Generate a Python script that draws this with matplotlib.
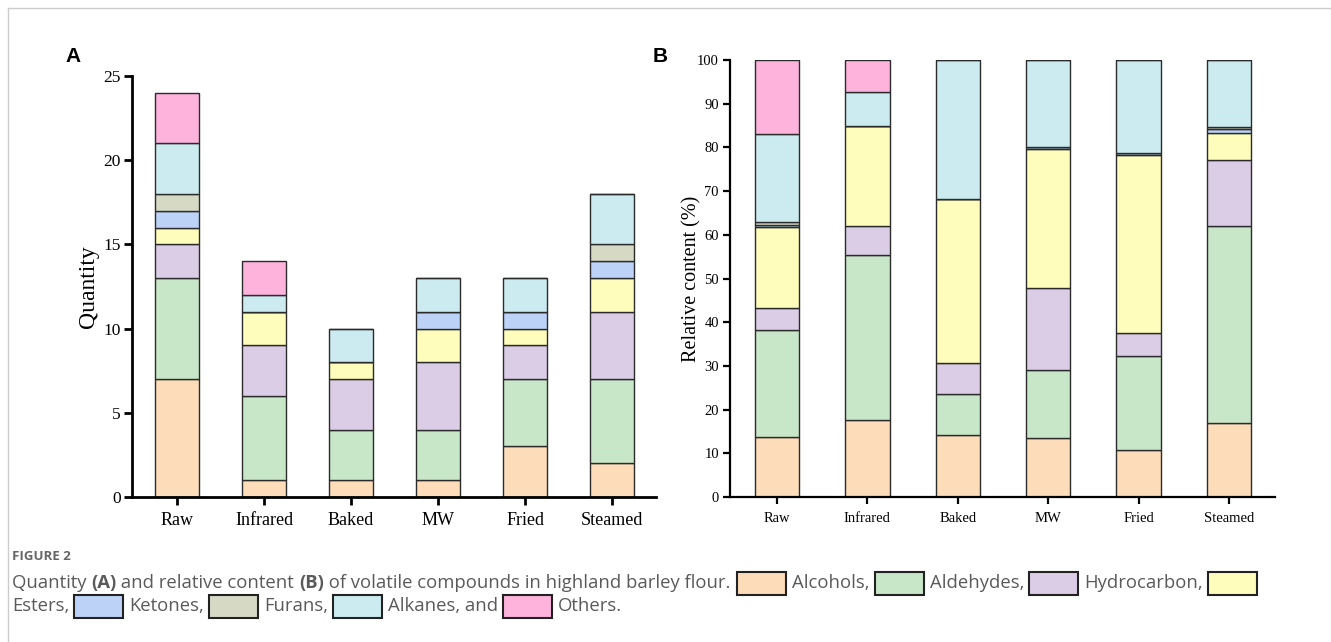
import matplotlib
matplotlib.use("Agg")
import matplotlib.pyplot as plt
from matplotlib.patches import Rectangle
from matplotlib.lines import Line2D
import numpy as np

categories = ["Raw", "Infrared", "Baked", "MW", "Fried", "Steamed"]
groups = ["Alcohols", "Aldehydes", "Hydrocarbon", "Esters", "Ketones", "Furans", "Alkanes", "Others"]
colors = ["#FDDCBA", "#C8E6C8", "#DCCDE6", "#FEFDBB", "#BCD2F7", "#D6D9C4", "#CBEBF0", "#FDB3DC"]

# Panel A: quantity
quantity = {
    "Alcohols":    [7, 1, 1, 1, 3, 2],
    "Aldehydes":   [6, 5, 3, 3, 4, 5],
    "Hydrocarbon": [2, 3, 3, 4, 2, 4],
    "Esters":      [1, 2, 1, 2, 1, 2],
    "Ketones":     [1, 0, 0, 1, 1, 1],
    "Furans":      [1, 0, 0, 0, 0, 1],
    "Alkanes":     [3, 1, 2, 2, 2, 3],
    "Others":      [3, 2, 0, 0, 0, 0],
}

# Panel B: relative content (%)
relative = {
    "Alcohols":    [13.7, 17.6, 14.3, 13.4, 10.7, 16.9],
    "Aldehydes":   [24.5, 37.7, 9.3, 15.6, 21.6, 45.2],
    "Hydrocarbon": [5.0, 6.8, 7.0, 18.9, 5.2, 15.0],
    "Esters":      [18.6, 22.9, 37.6, 31.8, 40.8, 6.2],
    "Ketones":     [0.5, 0.0, 0.0, 0.3, 0.4, 0.8],
    "Furans":      [0.7, 0.0, 0.0, 0.0, 0.0, 0.5],
    "Alkanes":     [20.1, 7.6, 31.8, 20.0, 21.3, 15.4],
    "Others":      [16.9, 7.4, 0.0, 0.0, 0.0, 0.0],
}

W, H = 1331, 642
fig = plt.figure(figsize=(W / 100, H / 100), dpi=100)

def fx(px):
    return px / W

def fy(py):
    return 1 - py / H

serif = ["Liberation Serif", "DejaVu Serif"]

# Panel A axes
axA = fig.add_axes([fx(132), fy(497), fx(656) - fx(132), fy(76) - fy(497)])
x = np.arange(len(categories))
bottom = np.zeros(len(categories))
for g, c in zip(groups, colors):
    vals = np.array(quantity[g], dtype=float)
    axA.bar(x, vals, 0.5, bottom=bottom, color=c, edgecolor="#2b2b2b", linewidth=1.0)
    bottom += vals
axA.set_xlim(-0.52, 5.506)
axA.set_ylim(0, 25)
axA.set_yticks([0, 5, 10, 15, 20, 25])
axA.set_xticks(x)
axA.set_xticklabels(categories)
for s in ["top", "right"]:
    axA.spines[s].set_visible(False)
for s in ["left", "bottom"]:
    axA.spines[s].set_linewidth(2.0)
axA.tick_params(axis="both", width=2.0, length=6, labelsize=13, direction="out", pad=5)
axA.tick_params(axis="y", labelsize=12.5, pad=2)
for lab in axA.get_xticklabels() + axA.get_yticklabels():
    lab.set_family(serif)
axA.set_ylabel("Quantity", family=serif, fontsize=17)
axA.yaxis.set_label_coords(-(132 - 99) / (656 - 132), 0.5)

# Panel B axes
axB = fig.add_axes([fx(730), fy(497), fx(1275) - fx(730), fy(60) - fy(497)])
bottom = np.zeros(len(categories))
for g, c in zip(groups, colors):
    vals = np.array(relative[g], dtype=float)
    axB.bar(x, vals, 0.49, bottom=bottom, color=c, edgecolor="#2b2b2b", linewidth=1.0)
    bottom += vals
axB.set_xlim(-0.52, 5.51)
axB.set_ylim(0, 100)
axB.set_yticks(np.arange(0, 101, 10))
axB.set_xticks(x)
axB.set_xticklabels(categories)
for s in ["top", "right"]:
    axB.spines[s].set_visible(False)
for s in ["left", "bottom"]:
    axB.spines[s].set_linewidth(1.6)
axB.tick_params(axis="both", width=1.6, length=5, labelsize=10.5, direction="out", pad=3)
axB.tick_params(axis="x", pad=6)
for lab in axB.get_xticklabels() + axB.get_yticklabels():
    lab.set_family(serif)
axB.set_ylabel("Relative content (%)", family=serif, fontsize=14.5)
axB.yaxis.set_label_coords(-(730 - 701) / (1275 - 730), 0.5)

# Panel letters
fig.text(fx(73), fy(57), "A", family="Liberation Sans", weight="bold", fontsize=15, ha="center", va="center")
fig.text(fx(660), fy(57), "B", family="Liberation Sans", weight="bold", fontsize=15, ha="center", va="center")

# frame border
fig.add_artist(Line2D([fx(8), 1.0], [fy(8), fy(8)], color="#cccccc", lw=1.0))
fig.add_artist(Line2D([fx(8), fx(8)], [fy(8), 0.0], color="#cccccc", lw=1.0))

# Caption
capc = "#5a5a5a"
cap_font = ["Open Sans", "DejaVu Sans"]
fig.text(fx(12), fy(557), "FIGURE 2", family=cap_font, weight="bold", fontsize=9.5, color="#666666", va="center")

fig.canvas.draw()
renderer = fig.canvas.get_renderer()

# size the caption font so that the first sentence spans the reference width
probe = fig.text(0, 0, "Quantity (A) and relative content (B) of volatile compounds in highland barley flour.",
                 family=cap_font, fontsize=10)
pw = probe.get_window_extent(renderer=renderer).width
probe.remove()
fs = 10 * 712 / pw

line1_y = 583
line2_y = 606

def put_text(xpx, ypx, s, bold=False):
    t = fig.text(fx(xpx), fy(ypx), s, family=cap_font, fontsize=fs, color=capc,
                 va="center", ha="left", weight="bold" if bold else "normal")
    bb = t.get_window_extent(renderer=renderer)
    return xpx + bb.width

def put_square(xpx, ypx, color):
    sq_w, sq_h = 49, 23
    r = Rectangle((fx(xpx), fy(ypx + sq_h / 2)), sq_w / W, sq_h / H,
                  transform=fig.transFigure, facecolor=color, edgecolor="#222222", lw=1.5)
    fig.add_artist(r)
    return xpx + sq_w

pos = 12
pos = put_text(pos, line1_y, "Quantity ")
pos = put_text(pos, line1_y, "(A)", bold=True)
pos = put_text(pos, line1_y, " and relative content ")
pos = put_text(pos, line1_y, "(B)", bold=True)
pos = put_text(pos, line1_y, " of volatile compounds in highland barley flour.")
pos += 7
line1_items = [("Alcohols,", colors[0]), ("Aldehydes,", colors[1]), ("Hydrocarbon,", colors[2])]
for label, c in line1_items:
    pos = put_square(pos, line1_y, c)
    pos += 6
    pos = put_text(pos, line1_y, label)
    pos += 5
put_square(pos, line1_y, colors[3])

pos = 12
pos = put_text(pos, line2_y, "Esters,")
pos += 5
line2_items = [("Ketones,", colors[4]), ("Furans,", colors[5]), ("Alkanes, and", colors[6]), ("Others.", colors[7])]
for label, c in line2_items:
    pos = put_square(pos, line2_y, c)
    pos += 6
    pos = put_text(pos, line2_y, label)
    pos += 5

fig.savefig("out.png", dpi=100)
